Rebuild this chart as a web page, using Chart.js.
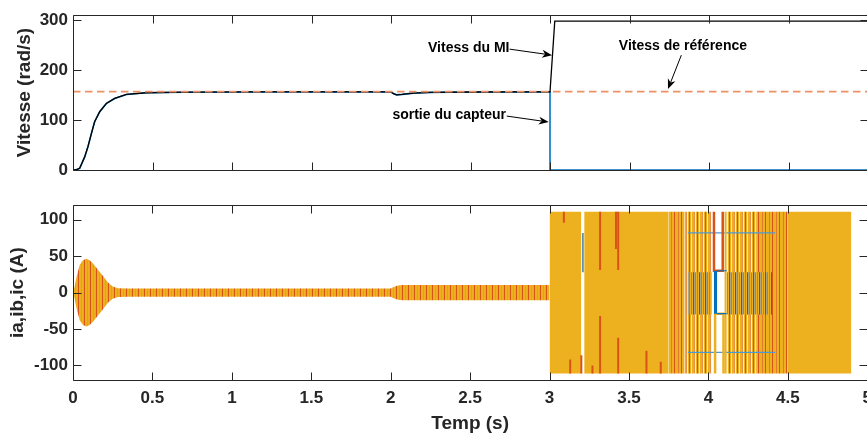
<!DOCTYPE html>
<html>
<head>
<meta charset="utf-8">
<script src="https://cdn.jsdelivr.net/npm/chart.js@4.4.1/dist/chart.umd.min.js"></script>
<style>
  html, body { margin: 0; padding: 0; background: #fff; overflow: hidden; }
  #wrap { position: relative; width: 880px; height: 433px; }
  .pane { position: absolute; left: 0; width: 880px; }
  #speedPane { top: 0; height: 190px; }
  #currentPane { top: 190px; height: 243px; }
</style>
</head>
<body>
<div id="wrap">
  <div class="pane" id="speedPane"><canvas id="speedChart"></canvas></div>
  <div class="pane" id="currentPane"><canvas id="currentChart"></canvas></div>
</div>
<script>
// time axis (s)
const timeTicks = [0, 0.5, 1, 1.5, 2, 2.5, 3, 3.5, 4, 4.5, 5];
const timeTickLabels = ['0', '0.5', '1', '1.5', '2', '2.5', '3', '3.5', '4', '4.5', '5'];

// speed (rad/s)
const speedTicks = [0, 100, 200, 300];
const motorTime  = [0, 0.02, 0.042, 0.074, 0.094, 0.116, 0.136, 0.168, 0.21, 0.262, 0.336, 0.46, 0.7, 1.2, 2.0, 2.015, 2.035, 2.07, 2.14, 2.25, 2.5, 3.0, 3.03, 5.0];
const motorSpeed = [0, 0.5, 3.3, 26.7, 46.7, 73.3, 96.7, 116.7, 133.3, 143.3, 151.3, 154.7, 155.8, 156.4, 156.4, 153, 150.5, 151.5, 154, 155.5, 156.2, 156.4, 298, 298];
const sensorTime  = [0, 0.02, 0.042, 0.074, 0.094, 0.116, 0.136, 0.168, 0.21, 0.262, 0.336, 0.46, 0.7, 1.2, 2.0, 2.015, 2.035, 2.07, 2.14, 2.25, 2.5, 3.0, 3.0, 5.0];
const sensorSpeed = [0, 0.5, 3.3, 26.7, 46.7, 73.3, 96.7, 116.7, 133.3, 143.3, 151.3, 154.7, 155.8, 156.4, 156.4, 153, 150.5, 151.5, 154, 155.5, 156.2, 156.4, 0, 0];
const refTime  = [0, 5];
const refSpeed = [157, 157];

// phase currents ia, ib, ic (A)
const currentTicks = [-100, -50, 0, 50, 100];
// peak envelope of the three phases while the sensor is healthy
const envTime = [0, 0.01, 0.021, 0.042, 0.063, 0.084, 0.105, 0.126, 0.157, 0.189, 0.22, 0.25, 0.283, 0.35, 2.0, 2.015, 2.045, 2.075, 3.0];
const envPeak = [0, 8, 20.5, 38, 44.4, 46.6, 44.4, 40, 31.4, 22.7, 14, 8.3, 6.1, 5.8, 5.8, 7.5, 9.8, 10.5, 10.5];
// after the fault the currents hit the limiter
const currentLimit = 111;
const solidFrom  = [3.0, 3.218, 4.5];
const solidTo    = [3.2, 3.75, 4.9];
const denseFrom  = [3.75, 4.3];
const denseTo    = [3.85, 4.5];
const sparseFrom = [3.85, 4.115];
const sparseTo   = [4.02, 4.3];
// intermediate six-step levels
const stepTop = 82, stepMid = 28, stepMidLow = -30, stepBottom = -82;
const midFrom = [3.87, 4.115];
const midTo   = [4.02, 4.4];
const stepLineFrom = 3.87, stepLineTo = 4.42;
// isolated phase spikes: time, low, high
const spikeTime = [3.09, 3.13, 3.2, 3.27, 3.318, 3.318, 3.418, 3.432, 3.432, 3.61, 3.7];
const spikeLow  = [96, -111, -111, -111, 31, -111, 60, 31, -111, -111, -111];
const spikeHigh = [111, -92, -86, -100, 111, -32, 111, 111, -62, -80, -95];

const C_BLUE = '#0072BD', C_ORANGE = '#D95319', C_YELLOW = '#EDB120', C_AXIS = '#262626';
const FONT = 'Liberation Sans, Arial, Helvetica, sans-serif';

function stripes(colors) {
  const c = document.createElement('canvas');
  c.width = colors.length; c.height = 1;
  const g = c.getContext('2d');
  colors.forEach((col, i) => { g.fillStyle = col; g.fillRect(i, 0, 1, 1); });
  return g.createPattern(c, 'repeat');
}
const bandPattern   = stripes([C_ORANGE, C_YELLOW, C_YELLOW, '#E8993A', C_YELLOW, '#D9A848']);
const densePattern  = stripes([C_YELLOW, C_YELLOW, C_ORANGE, C_YELLOW, C_YELLOW, C_YELLOW, '#E27C2C']);
const sparsePattern = stripes([C_YELLOW, C_ORANGE, C_YELLOW, '#F6E2B0', C_YELLOW, C_YELLOW, '#E89046', '#FBEFD6']);
const midPattern    = stripes([C_YELLOW, '#6C95B5', C_YELLOW, C_BLUE, '#A9A58A', '#5E93C0']);

const pts = (xs, ys) => xs.map((x, i) => ({ x, y: ys[i] }));

function line(data, color, width, order, dash) {
  return { data, borderColor: color, borderWidth: width, borderDash: dash || [],
           pointRadius: 0, fill: false, tension: 0, order, borderCapStyle: 'butt' };
}
function block(from, to, top, bottom, fillStyle, order) {
  return { data: [{ x: from, y: top }, { x: to, y: top }], fill: { value: bottom },
           backgroundColor: fillStyle, borderWidth: 0, pointRadius: 0, order };
}

// boxed axes with inward ticks on all four sides
const boxAxes = {
  id: 'boxAxes',
  afterDatasetsDraw(chart) {
    const { ctx, chartArea: a, scales: { x, y } } = chart;
    const L = Math.round(a.left) + 0.5, R = Math.round(a.right) + 0.5;
    const T = Math.round(a.top) + 0.5, B = Math.round(a.bottom) + 0.5;
    const len = 8;
    ctx.save();
    ctx.strokeStyle = C_AXIS;
    ctx.lineWidth = 1;
    ctx.beginPath();
    x.ticks.forEach(t => {
      const px = Math.round(x.getPixelForValue(t.value)) + 0.5;
      ctx.moveTo(px, B); ctx.lineTo(px, B - len);
      ctx.moveTo(px, T); ctx.lineTo(px, T + len);
    });
    y.ticks.forEach(t => {
      const py = Math.round(y.getPixelForValue(t.value)) + 0.5;
      ctx.moveTo(L, py); ctx.lineTo(L + len, py);
      ctx.moveTo(R, py); ctx.lineTo(R - len, py);
    });
    ctx.rect(L, T, R - L, B - T);
    ctx.stroke();
    ctx.restore();
  }
};

// text arrows on the speed plot
const callouts = {
  id: 'callouts',
  afterDraw(chart, args, opts) {
    const { ctx, scales: { x, y } } = chart;
    ctx.save();
    ctx.fillStyle = '#000';
    ctx.strokeStyle = '#000';
    ctx.lineWidth = 1;
    ctx.font = 'bold 14px ' + FONT;
    ctx.textAlign = 'center';
    ctx.textBaseline = 'middle';
    opts.items.forEach(it => {
      ctx.fillText(it.text, x.getPixelForValue(it.at[0]), y.getPixelForValue(it.at[1]));
      const x0 = x.getPixelForValue(it.tail[0]), y0 = y.getPixelForValue(it.tail[1]);
      const x1 = x.getPixelForValue(it.tip[0]), y1 = y.getPixelForValue(it.tip[1]);
      const ang = Math.atan2(y1 - y0, x1 - x0), c = Math.cos(ang), s = Math.sin(ang);
      const hl = 10, hw = 4;
      ctx.beginPath();
      ctx.moveTo(x0, y0);
      ctx.lineTo(x1 - hl * 0.7 * c, y1 - hl * 0.7 * s);
      ctx.stroke();
      ctx.beginPath();
      ctx.moveTo(x1, y1);
      ctx.lineTo(x1 - hl * c + hw * s, y1 - hl * s - hw * c);
      ctx.lineTo(x1 - hl * 0.7 * c, y1 - hl * 0.7 * s);
      ctx.lineTo(x1 - hl * c - hw * s, y1 - hl * s + hw * c);
      ctx.closePath();
      ctx.fill();
    });
    ctx.restore();
  }
};

const tickFont = { family: FONT, size: 17, weight: 'bold' };
const titleFont = { family: FONT, size: 19, weight: 'bold', lineHeight: 1 };

function timeAxis(showLabels) {
  return {
    type: 'linear', min: 0, max: 5,
    afterBuildTicks: s => { s.ticks = timeTicks.map(v => ({ value: v })); },
    afterFit: s => { s.height = showLabels ? 53 : 0; },
    grid: { display: false, drawTicks: false },
    border: { display: false },
    ticks: { display: showLabels, font: tickFont, color: C_AXIS, padding: 8, maxRotation: 0,
             autoSkip: false, callback: (v, i) => timeTickLabels[i] },
    title: { display: showLabels, text: 'Temp (s)', font: titleFont, color: C_AXIS, padding: { top: 0, bottom: 0 } }
  };
}
function valueAxis(min, max, tickList, title, titlePad) {
  return {
    type: 'linear', min, max,
    afterBuildTicks: s => { s.ticks = tickList.map(v => ({ value: v })); },
    afterFit: s => { s.width = 73; },
    grid: { display: false, drawTicks: false },
    border: { display: false },
    ticks: { font: tickFont, color: C_AXIS, padding: 5, autoSkip: false, callback: v => String(v) },
    title: { display: true, text: title, font: titleFont, color: C_AXIS, padding: { top: titlePad, bottom: 0 } }
  };
}

const common = {
  responsive: true,
  maintainAspectRatio: false,
  animation: false,
  events: [],
  plugins: { legend: { display: false }, tooltip: { enabled: false } }
};

new Chart(document.getElementById('speedChart'), {
  type: 'line',
  data: {
    datasets: [
      line(pts(refTime, refSpeed), '#EE9064', 1.6, 0, [7.5, 4.5]),
      line(pts(motorTime, motorSpeed), '#000000', 1.3, 1),
      line(pts(sensorTime, sensorSpeed), C_BLUE, 1.6, 2)
    ]
  },
  options: {
    ...common,
    layout: { padding: { top: 15, right: 12, bottom: 20, left: 0 } },
    scales: {
      x: timeAxis(false),
      y: valueAxis(0, 310, speedTicks, 'Vitesse (rad/s)', 15)
    },
    plugins: {
      ...common.plugins,
      callouts: {
        items: [
          { text: 'Vitess du MI', at: [2.489, 244], tail: [2.746, 242], tip: [3.013, 230] },
          { text: 'Vitess de référence', at: [3.836, 248], tail: [3.826, 230], tip: [3.742, 162] },
          { text: 'sortie du capteur', at: [2.366, 110], tail: [2.728, 108], tip: [2.992, 96] }
        ]
      }
    }
  },
  plugins: [boxAxes, callouts]
});

// current plot layers
const currentSets = [];
currentSets.push({ data: pts(envTime, envPeak), borderWidth: 0, pointRadius: 0, fill: false, order: 10 });
currentSets.push({ data: pts(envTime, envPeak.map(v => -v)), borderWidth: 0, pointRadius: 0,
                   fill: '-1', backgroundColor: bandPattern, order: 10 });
solidFrom.forEach((f, i) => currentSets.push(block(f, solidTo[i], currentLimit, -currentLimit, C_YELLOW, 10)));
denseFrom.forEach((f, i) => currentSets.push(block(f, denseTo[i], currentLimit, -currentLimit, densePattern, 10)));
sparseFrom.forEach((f, i) => currentSets.push(block(f, sparseTo[i], currentLimit, -currentLimit, sparsePattern, 10)));
midFrom.forEach((f, i) => currentSets.push(block(f, midTo[i], stepMid, stepMidLow, midPattern, 8)));
currentSets.push(line(pts([stepLineFrom, stepLineTo], [stepTop, stepTop]), '#4A9AD4', 1.2, 7));
currentSets.push(line(pts([stepLineFrom, stepLineTo], [stepBottom, stepBottom]), '#4A9AD4', 1.2, 7));
// short blue level inside the 3.2 s gap
currentSets.push(block(3.203, 3.216, stepTop, stepMid, '#5B8FB5', 7));
spikeTime.forEach((t, i) => currentSets.push(line(pts([t, t], [spikeLow[i], spikeHigh[i]]), C_ORANGE, 2, 6)));
// open switching cells around 4.05 s
currentSets.push(block(4.035, 4.055, stepMid + 2, stepMidLow + 1, C_BLUE, 5));
currentSets.push(line(pts([4.055, 4.115], [stepMid + 2, stepMid + 2]), C_BLUE, 1.2, 5));
currentSets.push(line(pts([4.055, 4.115], [stepMidLow + 1, stepMidLow + 1]), C_BLUE, 1.2, 5));
currentSets.push(line(pts([4.035, 4.035, 4.09, 4.09], [currentLimit, stepMid + 2, stepMid + 2, currentLimit]), C_ORANGE, 2.5, 5));
currentSets.push(line(pts([4.042, 4.042, 4.095, 4.095], [-currentLimit, stepMidLow + 1, stepMidLow + 1, -currentLimit]), C_YELLOW, 2.5, 5));
currentSets.push(line(pts([4.108, 4.108], [currentLimit, -currentLimit]), C_YELLOW, 2, 5));

new Chart(document.getElementById('currentChart'), {
  type: 'line',
  data: { datasets: currentSets },
  options: {
    ...common,
    layout: { padding: { top: 7, right: 12, bottom: 0, left: 0 } },
    scales: {
      x: timeAxis(true),
      y: valueAxis(-120, 120, currentTicks, 'ia,ib,ic (A)', 8)
    }
  },
  plugins: [boxAxes]
});
</script>
</body>
</html>
